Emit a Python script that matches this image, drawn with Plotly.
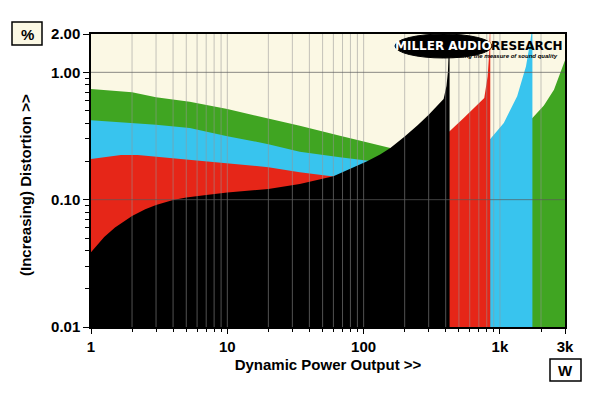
import plotly.graph_objects as go

# ---- data ----
black_w = [1, 1.25, 1.5, 1.75, 2, 2.5, 3, 4, 5, 7, 10, 20, 34, 60, 106, 132, 157, 200, 250, 300, 350, 386, 405, 415, 420, 424, 427]
black_d = [0.0387, 0.051, 0.0605, 0.068, 0.0745, 0.084, 0.091, 0.0995, 0.104, 0.109, 0.114, 0.121, 0.133, 0.153, 0.20, 0.226, 0.255, 0.314, 0.385, 0.465, 0.55, 0.617, 0.78, 1.0, 1.4, 2.3, 2.3]

red_w = [1, 1.66, 2.2, 3.86, 6.06, 11.3, 20, 34, 60, 100, 200, 329, 427, 542, 686, 767, 812, 834, 845, 849]
red_d = [0.209, 0.224, 0.224, 0.212, 0.202, 0.19, 0.180, 0.164, 0.152, 0.18, 0.25, 0.30, 0.344, 0.438, 0.557, 0.629, 0.93, 1.42, 2.3, 2.3]

cyan_w = [1, 2, 3, 5.3, 10, 20, 34, 67, 106, 116, 200, 400, 849, 1067, 1337, 1551, 1676, 1720, 1730]
cyan_d = [0.42, 0.40, 0.388, 0.365, 0.315, 0.273, 0.238, 0.215, 0.202, 0.20, 0.24, 0.27, 0.30, 0.40, 0.648, 1.11, 1.80, 2.3, 2.3]

green_w = [1, 2, 3, 5.3, 10, 20, 34, 67, 106, 157, 300, 1000, 1730, 2100, 2490, 2867, 3000, 3200]
green_d = [0.74, 0.697, 0.636, 0.588, 0.515, 0.435, 0.381, 0.318, 0.282, 0.255, 0.27, 0.29, 0.438, 0.55, 0.73, 1.08, 1.24, 1.5]

x_tickvals = [1, 10, 100, 1000, 3000]
x_ticktext = ["1", "10", "100", "1k", "3k"]
y_tickvals = [0.01, 0.1, 1, 2]
y_ticktext = ["0.01", "0.10", "1.00", "2.00"]

series = [
    ("green", green_w, green_d, "rgb(64,165,34)"),
    ("cyan", cyan_w, cyan_d, "rgb(56,196,238)"),
    ("red", red_w, red_d, "rgb(230,38,24)"),
    ("black", black_w, black_d, "rgb(0,0,0)"),
]

X_MIN, X_MAX = 1, 3000
Y_MIN, Y_MAX = 0.01, 2
FLOOR = 0.005

fig = go.Figure()
for name, w, d, col in series:
    xs = list(w) + [w[-1], w[0]]
    ys = list(d) + [FLOOR, FLOOR]
    fig.add_trace(go.Scatter(x=xs, y=ys, mode="lines", fill="toself", fillcolor=col,
                             line=dict(width=0, color=col), name=name, hoverinfo="skip"))

# grid lines drawn over the filled areas (as in the reference)
x_minor = [m * 10 ** e for e in range(0, 4) for m in range(2, 10) if m * 10 ** e < X_MAX]
x_grid = sorted(x_minor + [10, 100, 1000])
gx, gy = [], []
for v in x_grid:
    gx += [v, v, None]
    gy += [Y_MIN, Y_MAX, None]
fig.add_trace(go.Scatter(x=gx, y=gy, mode="lines", line=dict(color="rgba(150,150,150,0.55)", width=1),
                         hoverinfo="skip", showlegend=False))
hx, hy = [], []
for v in [0.1, 1]:
    hx += [X_MIN, X_MAX, None]
    hy += [v, v, None]
fig.add_trace(go.Scatter(x=hx, y=hy, mode="lines", line=dict(color="rgba(90,90,90,0.7)", width=1),
                         hoverinfo="skip", showlegend=False))

FONT = "Liberation Sans, Arial, sans-serif"
LOGO_FONT = "DejaVu Sans, Verdana, sans-serif"
OFF = 8  # page body margin in the browser
W, H = 600 - OFF, 393 - OFF
# plot area in reference-page pixels
L, R, T, B = 91, 565, 34, 327

def pxp(x):
    return (x - L) / (R - L)

def pyp(y):
    return (B - y) / (B - T)

y_minor = [m * 10 ** e for e in (-2, -1) for m in range(2, 10)]

fig.update_layout(
    width=W, height=H,
    margin=dict(l=L - OFF, r=600 - R, t=T - OFF, b=393 - B, autoexpand=False),
    paper_bgcolor="white",
    plot_bgcolor="rgb(251,248,228)",
    showlegend=False,
    font=dict(family=FONT, color="black"),
)
fig.update_xaxes(
    type="log", range=[0, 3.4771],
    tickvals=x_tickvals, ticktext=x_ticktext,
    tickfont=dict(size=15, weight="bold", family=FONT),
    ticks="outside", ticklen=5, tickcolor="black", tickwidth=1,
    showgrid=False,
    minor=dict(tickvals=x_minor, ticks="outside", ticklen=3, tickcolor="black", showgrid=False),
    showline=True, linecolor="black", linewidth=1.5, mirror=True,
    zeroline=False,
    title=dict(text="Dynamic Power Output >>", font=dict(size=15, weight="bold", family=FONT), standoff=6),
)
fig.update_yaxes(
    type="log", range=[-2, 0.30103],
    tickvals=y_tickvals, ticktext=y_ticktext,
    tickfont=dict(size=15, weight="bold", family=FONT),
    ticks="outside", ticklen=6, tickcolor="black", tickwidth=1,
    showgrid=False,
    minor=dict(tickvals=y_minor, ticks="outside", ticklen=4, tickcolor="black", showgrid=False),
    showline=True, linecolor="black", linewidth=1.5, mirror=True,
    zeroline=False,
)

# y-axis title as annotation
fig.add_annotation(text="(Increasing) Distortion >>", xref="paper", yref="paper",
                   x=pxp(25), y=pyp(185), textangle=-90, showarrow=False,
                   font=dict(size=15, weight="bold", family=FONT), xanchor="center", yanchor="middle")

# unit boxes
fig.add_shape(type="rect", xref="paper", yref="paper", x0=pxp(12), x1=pxp(42), y0=pyp(45), y1=pyp(22),
              line=dict(color="black", width=1.5), fillcolor="rgb(251,248,228)")
fig.add_annotation(text="%", xref="paper", yref="paper", x=pxp(27), y=pyp(34), showarrow=False,
                   font=dict(size=15, weight="bold", family=FONT), xanchor="center", yanchor="middle")
fig.add_shape(type="rect", xref="paper", yref="paper", x0=pxp(550), x1=pxp(581), y0=pyp(381), y1=pyp(359),
              line=dict(color="black", width=1.5), fillcolor="white")
fig.add_annotation(text="W", xref="paper", yref="paper", x=pxp(565.5), y=pyp(370), showarrow=False,
                   font=dict(size=15, weight="bold", family=FONT), xanchor="center", yanchor="middle")

# logo
fig.add_shape(type="circle", xref="paper", yref="paper", x0=pxp(395), x1=pxp(492), y0=pyp(58), y1=pyp(34),
              line=dict(color="black", width=1), fillcolor="black", layer="above")
fig.add_annotation(text="MILLER AUDIO", xref="paper", yref="paper", x=pxp(443), y=pyp(46), showarrow=False,
                   font=dict(size=12, weight="bold", family=LOGO_FONT, color="white"), xanchor="center", yanchor="middle")
fig.add_annotation(text="RESEARCH", xref="paper", yref="paper", x=pxp(527), y=pyp(46), showarrow=False,
                   font=dict(size=12, weight="bold", family=LOGO_FONT, color="black"), xanchor="center", yanchor="middle")
fig.add_annotation(text="<i>Getting the measure of sound quality</i>", xref="paper", yref="paper",
                   x=pxp(560), y=pyp(56), showarrow=False,
                   font=dict(size=6, weight="bold", family=FONT, color="black"), xanchor="right", yanchor="middle")

fig.write_html("out.html")
